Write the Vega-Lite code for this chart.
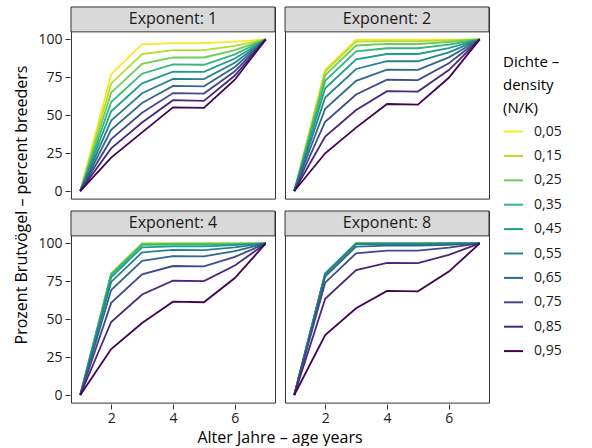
{
  "$schema": "https://vega.github.io/schema/vega-lite/v6.json",
  "padding": {"left": 13, "top": 6, "right": 5, "bottom": 0},
  "data": {"values": [
    {"exponent":1,"density":0.05,"age":1,"percent":0},{"exponent":1,"density":0.05,"age":2,"percent":77.1},{"exponent":1,"density":0.05,"age":3,"percent":96.8},{"exponent":1,"density":0.05,"age":4,"percent":97.6},{"exponent":1,"density":0.05,"age":5,"percent":97.6},{"exponent":1,"density":0.05,"age":6,"percent":98.6},{"exponent":1,"density":0.05,"age":7,"percent":100},
    {"exponent":1,"density":0.15,"age":1,"percent":0},{"exponent":1,"density":0.15,"age":2,"percent":71.0},{"exponent":1,"density":0.15,"age":3,"percent":90.3},{"exponent":1,"density":0.15,"age":4,"percent":92.9},{"exponent":1,"density":0.15,"age":5,"percent":92.9},{"exponent":1,"density":0.15,"age":6,"percent":95.8},{"exponent":1,"density":0.15,"age":7,"percent":100},
    {"exponent":1,"density":0.25,"age":1,"percent":0},{"exponent":1,"density":0.25,"age":2,"percent":64.9},{"exponent":1,"density":0.25,"age":3,"percent":83.9},{"exponent":1,"density":0.25,"age":4,"percent":88.2},{"exponent":1,"density":0.25,"age":5,"percent":88.1},{"exponent":1,"density":0.25,"age":6,"percent":93.0},{"exponent":1,"density":0.25,"age":7,"percent":100},
    {"exponent":1,"density":0.35,"age":1,"percent":0},{"exponent":1,"density":0.35,"age":2,"percent":58.7},{"exponent":1,"density":0.35,"age":3,"percent":77.4},{"exponent":1,"density":0.35,"age":4,"percent":83.5},{"exponent":1,"density":0.35,"age":5,"percent":83.3},{"exponent":1,"density":0.35,"age":6,"percent":90.2},{"exponent":1,"density":0.35,"age":7,"percent":100},
    {"exponent":1,"density":0.45,"age":1,"percent":0},{"exponent":1,"density":0.45,"age":2,"percent":52.6},{"exponent":1,"density":0.45,"age":3,"percent":71.0},{"exponent":1,"density":0.45,"age":4,"percent":78.8},{"exponent":1,"density":0.45,"age":5,"percent":78.6},{"exponent":1,"density":0.45,"age":6,"percent":87.4},{"exponent":1,"density":0.45,"age":7,"percent":100},
    {"exponent":1,"density":0.55,"age":1,"percent":0},{"exponent":1,"density":0.55,"age":2,"percent":46.5},{"exponent":1,"density":0.55,"age":3,"percent":64.5},{"exponent":1,"density":0.55,"age":4,"percent":74.0},{"exponent":1,"density":0.55,"age":5,"percent":73.8},{"exponent":1,"density":0.55,"age":6,"percent":84.6},{"exponent":1,"density":0.55,"age":7,"percent":100},
    {"exponent":1,"density":0.65,"age":1,"percent":0},{"exponent":1,"density":0.65,"age":2,"percent":40.4},{"exponent":1,"density":0.65,"age":3,"percent":58.1},{"exponent":1,"density":0.65,"age":4,"percent":69.3},{"exponent":1,"density":0.65,"age":5,"percent":69.1},{"exponent":1,"density":0.65,"age":6,"percent":81.8},{"exponent":1,"density":0.65,"age":7,"percent":100},
    {"exponent":1,"density":0.75,"age":1,"percent":0},{"exponent":1,"density":0.75,"age":2,"percent":34.2},{"exponent":1,"density":0.75,"age":3,"percent":51.6},{"exponent":1,"density":0.75,"age":4,"percent":64.6},{"exponent":1,"density":0.75,"age":5,"percent":64.3},{"exponent":1,"density":0.75,"age":6,"percent":79.0},{"exponent":1,"density":0.75,"age":7,"percent":100},
    {"exponent":1,"density":0.85,"age":1,"percent":0},{"exponent":1,"density":0.85,"age":2,"percent":28.1},{"exponent":1,"density":0.85,"age":3,"percent":45.2},{"exponent":1,"density":0.85,"age":4,"percent":59.9},{"exponent":1,"density":0.85,"age":5,"percent":59.5},{"exponent":1,"density":0.85,"age":6,"percent":76.2},{"exponent":1,"density":0.85,"age":7,"percent":100},
    {"exponent":1,"density":0.95,"age":1,"percent":0},{"exponent":1,"density":0.95,"age":2,"percent":22.0},{"exponent":1,"density":0.95,"age":3,"percent":38.7},{"exponent":1,"density":0.95,"age":4,"percent":55.2},{"exponent":1,"density":0.95,"age":5,"percent":54.8},{"exponent":1,"density":0.95,"age":6,"percent":73.4},{"exponent":1,"density":0.95,"age":7,"percent":100},

    {"exponent":2,"density":0.05,"age":1,"percent":0},{"exponent":2,"density":0.05,"age":2,"percent":80.0},{"exponent":2,"density":0.05,"age":3,"percent":99.8},{"exponent":2,"density":0.05,"age":4,"percent":99.9},{"exponent":2,"density":0.05,"age":5,"percent":99.9},{"exponent":2,"density":0.05,"age":6,"percent":99.9},{"exponent":2,"density":0.05,"age":7,"percent":100},
    {"exponent":2,"density":0.15,"age":1,"percent":0},{"exponent":2,"density":0.15,"age":2,"percent":78.8},{"exponent":2,"density":0.15,"age":3,"percent":98.5},{"exponent":2,"density":0.15,"age":4,"percent":98.9},{"exponent":2,"density":0.15,"age":5,"percent":98.9},{"exponent":2,"density":0.15,"age":6,"percent":99.4},{"exponent":2,"density":0.15,"age":7,"percent":100},
    {"exponent":2,"density":0.25,"age":1,"percent":0},{"exponent":2,"density":0.25,"age":2,"percent":76.4},{"exponent":2,"density":0.25,"age":3,"percent":96.0},{"exponent":2,"density":0.25,"age":4,"percent":97.1},{"exponent":2,"density":0.25,"age":5,"percent":97.0},{"exponent":2,"density":0.25,"age":6,"percent":98.3},{"exponent":2,"density":0.25,"age":7,"percent":100},
    {"exponent":2,"density":0.35,"age":1,"percent":0},{"exponent":2,"density":0.35,"age":2,"percent":72.7},{"exponent":2,"density":0.35,"age":3,"percent":92.1},{"exponent":2,"density":0.35,"age":4,"percent":94.2},{"exponent":2,"density":0.35,"age":5,"percent":94.2},{"exponent":2,"density":0.35,"age":6,"percent":96.6},{"exponent":2,"density":0.35,"age":7,"percent":100},
    {"exponent":2,"density":0.45,"age":1,"percent":0},{"exponent":2,"density":0.45,"age":2,"percent":67.8},{"exponent":2,"density":0.45,"age":3,"percent":86.9},{"exponent":2,"density":0.45,"age":4,"percent":90.4},{"exponent":2,"density":0.45,"age":5,"percent":90.4},{"exponent":2,"density":0.45,"age":6,"percent":94.3},{"exponent":2,"density":0.45,"age":7,"percent":100},
    {"exponent":2,"density":0.55,"age":1,"percent":0},{"exponent":2,"density":0.55,"age":2,"percent":61.7},{"exponent":2,"density":0.55,"age":3,"percent":80.5},{"exponent":2,"density":0.55,"age":4,"percent":85.7},{"exponent":2,"density":0.55,"age":5,"percent":85.6},{"exponent":2,"density":0.55,"age":6,"percent":91.5},{"exponent":2,"density":0.55,"age":7,"percent":100},
    {"exponent":2,"density":0.65,"age":1,"percent":0},{"exponent":2,"density":0.65,"age":2,"percent":54.3},{"exponent":2,"density":0.65,"age":3,"percent":72.7},{"exponent":2,"density":0.65,"age":4,"percent":80.1},{"exponent":2,"density":0.65,"age":5,"percent":79.9},{"exponent":2,"density":0.65,"age":6,"percent":88.2},{"exponent":2,"density":0.65,"age":7,"percent":100},
    {"exponent":2,"density":0.75,"age":1,"percent":0},{"exponent":2,"density":0.75,"age":2,"percent":45.7},{"exponent":2,"density":0.75,"age":3,"percent":63.7},{"exponent":2,"density":0.75,"age":4,"percent":73.4},{"exponent":2,"density":0.75,"age":5,"percent":73.2},{"exponent":2,"density":0.75,"age":6,"percent":84.3},{"exponent":2,"density":0.75,"age":7,"percent":100},
    {"exponent":2,"density":0.85,"age":1,"percent":0},{"exponent":2,"density":0.85,"age":2,"percent":35.9},{"exponent":2,"density":0.85,"age":3,"percent":53.4},{"exponent":2,"density":0.85,"age":4,"percent":65.9},{"exponent":2,"density":0.85,"age":5,"percent":65.6},{"exponent":2,"density":0.85,"age":6,"percent":79.8},{"exponent":2,"density":0.85,"age":7,"percent":100},
    {"exponent":2,"density":0.95,"age":1,"percent":0},{"exponent":2,"density":0.95,"age":2,"percent":24.9},{"exponent":2,"density":0.95,"age":3,"percent":41.8},{"exponent":2,"density":0.95,"age":4,"percent":57.4},{"exponent":2,"density":0.95,"age":5,"percent":57.0},{"exponent":2,"density":0.95,"age":6,"percent":74.7},{"exponent":2,"density":0.95,"age":7,"percent":100},

    {"exponent":4,"density":0.05,"age":1,"percent":0},{"exponent":4,"density":0.05,"age":2,"percent":80.2},{"exponent":4,"density":0.05,"age":3,"percent":100},{"exponent":4,"density":0.05,"age":4,"percent":100},{"exponent":4,"density":0.05,"age":5,"percent":100},{"exponent":4,"density":0.05,"age":6,"percent":100},{"exponent":4,"density":0.05,"age":7,"percent":100},
    {"exponent":4,"density":0.15,"age":1,"percent":0},{"exponent":4,"density":0.15,"age":2,"percent":80.2},{"exponent":4,"density":0.15,"age":3,"percent":100},{"exponent":4,"density":0.15,"age":4,"percent":100},{"exponent":4,"density":0.15,"age":5,"percent":100},{"exponent":4,"density":0.15,"age":6,"percent":100},{"exponent":4,"density":0.15,"age":7,"percent":100},
    {"exponent":4,"density":0.25,"age":1,"percent":0},{"exponent":4,"density":0.25,"age":2,"percent":80.0},{"exponent":4,"density":0.25,"age":3,"percent":99.7},{"exponent":4,"density":0.25,"age":4,"percent":99.8},{"exponent":4,"density":0.25,"age":5,"percent":99.8},{"exponent":4,"density":0.25,"age":6,"percent":99.9},{"exponent":4,"density":0.25,"age":7,"percent":100},
    {"exponent":4,"density":0.35,"age":1,"percent":0},{"exponent":4,"density":0.35,"age":2,"percent":79.3},{"exponent":4,"density":0.35,"age":3,"percent":99.0},{"exponent":4,"density":0.35,"age":4,"percent":99.3},{"exponent":4,"density":0.35,"age":5,"percent":99.3},{"exponent":4,"density":0.35,"age":6,"percent":99.6},{"exponent":4,"density":0.35,"age":7,"percent":100},
    {"exponent":4,"density":0.45,"age":1,"percent":0},{"exponent":4,"density":0.45,"age":2,"percent":77.7},{"exponent":4,"density":0.45,"age":3,"percent":97.4},{"exponent":4,"density":0.45,"age":4,"percent":98.1},{"exponent":4,"density":0.45,"age":5,"percent":98.0},{"exponent":4,"density":0.45,"age":6,"percent":98.9},{"exponent":4,"density":0.45,"age":7,"percent":100},
    {"exponent":4,"density":0.55,"age":1,"percent":0},{"exponent":4,"density":0.55,"age":2,"percent":74.6},{"exponent":4,"density":0.55,"age":3,"percent":94.1},{"exponent":4,"density":0.55,"age":4,"percent":95.7},{"exponent":4,"density":0.55,"age":5,"percent":95.6},{"exponent":4,"density":0.55,"age":6,"percent":97.4},{"exponent":4,"density":0.55,"age":7,"percent":100},
    {"exponent":4,"density":0.65,"age":1,"percent":0},{"exponent":4,"density":0.65,"age":2,"percent":69.3},{"exponent":4,"density":0.65,"age":3,"percent":88.5},{"exponent":4,"density":0.65,"age":4,"percent":91.6},{"exponent":4,"density":0.65,"age":5,"percent":91.5},{"exponent":4,"density":0.65,"age":6,"percent":95.0},{"exponent":4,"density":0.65,"age":7,"percent":100},
    {"exponent":4,"density":0.75,"age":1,"percent":0},{"exponent":4,"density":0.75,"age":2,"percent":60.8},{"exponent":4,"density":0.75,"age":3,"percent":79.6},{"exponent":4,"density":0.75,"age":4,"percent":85.1},{"exponent":4,"density":0.75,"age":5,"percent":84.9},{"exponent":4,"density":0.75,"age":6,"percent":91.1},{"exponent":4,"density":0.75,"age":7,"percent":100},
    {"exponent":4,"density":0.85,"age":1,"percent":0},{"exponent":4,"density":0.85,"age":2,"percent":48.2},{"exponent":4,"density":0.85,"age":3,"percent":66.3},{"exponent":4,"density":0.85,"age":4,"percent":75.4},{"exponent":4,"density":0.85,"age":5,"percent":75.2},{"exponent":4,"density":0.85,"age":6,"percent":85.4},{"exponent":4,"density":0.85,"age":7,"percent":100},
    {"exponent":4,"density":0.95,"age":1,"percent":0},{"exponent":4,"density":0.95,"age":2,"percent":30.3},{"exponent":4,"density":0.95,"age":3,"percent":47.5},{"exponent":4,"density":0.95,"age":4,"percent":61.6},{"exponent":4,"density":0.95,"age":5,"percent":61.2},{"exponent":4,"density":0.95,"age":6,"percent":77.2},{"exponent":4,"density":0.95,"age":7,"percent":100},

    {"exponent":8,"density":0.05,"age":1,"percent":0},{"exponent":8,"density":0.05,"age":2,"percent":80.2},{"exponent":8,"density":0.05,"age":3,"percent":100},{"exponent":8,"density":0.05,"age":4,"percent":100},{"exponent":8,"density":0.05,"age":5,"percent":100},{"exponent":8,"density":0.05,"age":6,"percent":100},{"exponent":8,"density":0.05,"age":7,"percent":100},
    {"exponent":8,"density":0.15,"age":1,"percent":0},{"exponent":8,"density":0.15,"age":2,"percent":80.2},{"exponent":8,"density":0.15,"age":3,"percent":100},{"exponent":8,"density":0.15,"age":4,"percent":100},{"exponent":8,"density":0.15,"age":5,"percent":100},{"exponent":8,"density":0.15,"age":6,"percent":100},{"exponent":8,"density":0.15,"age":7,"percent":100},
    {"exponent":8,"density":0.25,"age":1,"percent":0},{"exponent":8,"density":0.25,"age":2,"percent":80.2},{"exponent":8,"density":0.25,"age":3,"percent":100},{"exponent":8,"density":0.25,"age":4,"percent":100},{"exponent":8,"density":0.25,"age":5,"percent":100},{"exponent":8,"density":0.25,"age":6,"percent":100},{"exponent":8,"density":0.25,"age":7,"percent":100},
    {"exponent":8,"density":0.35,"age":1,"percent":0},{"exponent":8,"density":0.35,"age":2,"percent":80.2},{"exponent":8,"density":0.35,"age":3,"percent":100},{"exponent":8,"density":0.35,"age":4,"percent":100},{"exponent":8,"density":0.35,"age":5,"percent":100},{"exponent":8,"density":0.35,"age":6,"percent":100},{"exponent":8,"density":0.35,"age":7,"percent":100},
    {"exponent":8,"density":0.45,"age":1,"percent":0},{"exponent":8,"density":0.45,"age":2,"percent":80.1},{"exponent":8,"density":0.45,"age":3,"percent":99.9},{"exponent":8,"density":0.45,"age":4,"percent":99.9},{"exponent":8,"density":0.45,"age":5,"percent":99.9},{"exponent":8,"density":0.45,"age":6,"percent":100},{"exponent":8,"density":0.45,"age":7,"percent":100},
    {"exponent":8,"density":0.55,"age":1,"percent":0},{"exponent":8,"density":0.55,"age":2,"percent":79.7},{"exponent":8,"density":0.55,"age":3,"percent":99.5},{"exponent":8,"density":0.55,"age":4,"percent":99.6},{"exponent":8,"density":0.55,"age":5,"percent":99.6},{"exponent":8,"density":0.55,"age":6,"percent":99.8},{"exponent":8,"density":0.55,"age":7,"percent":100},
    {"exponent":8,"density":0.65,"age":1,"percent":0},{"exponent":8,"density":0.65,"age":2,"percent":78.2},{"exponent":8,"density":0.65,"age":3,"percent":97.9},{"exponent":8,"density":0.65,"age":4,"percent":98.5},{"exponent":8,"density":0.65,"age":5,"percent":98.5},{"exponent":8,"density":0.65,"age":6,"percent":99.1},{"exponent":8,"density":0.65,"age":7,"percent":100},
    {"exponent":8,"density":0.75,"age":1,"percent":0},{"exponent":8,"density":0.75,"age":2,"percent":74.1},{"exponent":8,"density":0.75,"age":3,"percent":93.5},{"exponent":8,"density":0.75,"age":4,"percent":95.3},{"exponent":8,"density":0.75,"age":5,"percent":95.2},{"exponent":8,"density":0.75,"age":6,"percent":97.2},{"exponent":8,"density":0.75,"age":7,"percent":100},
    {"exponent":8,"density":0.85,"age":1,"percent":0},{"exponent":8,"density":0.85,"age":2,"percent":63.5},{"exponent":8,"density":0.85,"age":3,"percent":82.4},{"exponent":8,"density":0.85,"age":4,"percent":87.1},{"exponent":8,"density":0.85,"age":5,"percent":87.0},{"exponent":8,"density":0.85,"age":6,"percent":92.4},{"exponent":8,"density":0.85,"age":7,"percent":100},
    {"exponent":8,"density":0.95,"age":1,"percent":0},{"exponent":8,"density":0.95,"age":2,"percent":39.5},{"exponent":8,"density":0.95,"age":3,"percent":57.2},{"exponent":8,"density":0.95,"age":4,"percent":68.7},{"exponent":8,"density":0.95,"age":5,"percent":68.4},{"exponent":8,"density":0.95,"age":6,"percent":81.4},{"exponent":8,"density":0.95,"age":7,"percent":100}
  ]},
  "transform": [
    {"calculate": "datum.exponent <= 2 ? 'top' : 'bottom'", "as": "panelRow"},
    {"calculate": "(datum.exponent == 1 || datum.exponent == 4) ? 'left' : 'right'", "as": "panelCol"}
  ],
  "facet": {
    "row": {"field": "panelRow", "type": "nominal", "sort": ["top", "bottom"],
      "header": {"labels": false, "title": "Prozent Brutvögel – percent breeders", "titleOrient": "left", "titleFontSize": 16, "titleFontWeight": "normal", "titleColor": "#000000", "titlePadding": -3}},
    "column": {"field": "panelCol", "type": "nominal", "sort": ["left", "right"],
      "header": {"labels": false, "title": "Alter Jahre – age years", "titleOrient": "bottom", "titleFontSize": 16, "titleFontWeight": "normal", "titleColor": "#000000", "titlePadding": -5}}
  },
  "spacing": {"row": 10, "column": 8},
  "spec": {
    "width": 204,
    "height": 191.6,
    "layer": [
      {
        "mark": {"type": "line", "strokeWidth": 1.8},
        "encoding": {
          "x": {"field": "age", "type": "quantitative", "scale": {"domain": [0.7, 7.3], "nice": false, "zero": false},
            "axis": {"values": [2, 4, 6], "title": null, "grid": false, "domain": false, "tickColor": "#333333", "tickSize": 5, "labelFontSize": 14, "labelColor": "#1a1a1a", "labelPadding": 2}},
          "y": {"field": "percent", "type": "quantitative", "scale": {"domain": [-5, 121.4], "nice": false, "zero": false},
            "axis": {"values": [0, 25, 50, 75, 100], "title": null, "grid": false, "domain": false, "tickColor": "#333333", "tickSize": 5, "labelFontSize": 14, "labelColor": "#1a1a1a", "labelPadding": 3}},
          "color": {"field": "density", "type": "ordinal",
            "scale": {"range": ["#FDE725", "#B4DE2C", "#6DCD59", "#35B779", "#1F9E89", "#26828E", "#31688E", "#3E4A89", "#482878", "#440154"]},
            "legend": {"title": ["Dichte –", "density", "(N/K)"], "orient": "none", "legendX": 432, "legendY": 48,
              "labelExpr": "replace(datum.label, '.', ',')", "symbolType": "stroke", "symbolSize": 360, "symbolStrokeWidth": 2,
              "labelFontSize": 14, "labelColor": "#1a1a1a", "titleFontSize": 15, "titleFontWeight": "normal", "titleColor": "#000000", "titleLineHeight": 23, "rowPadding": 6.4, "labelOffset": 10, "titlePadding": 5}}
        }
      },
      {
        "transform": [{"filter": "datum.age == 1 && datum.density == 0.05"}],
        "mark": {"type": "rect", "fill": "#d9d9d9", "stroke": "#333333", "strokeWidth": 1},
        "encoding": {"x": {"datum": 0.7}, "x2": {"datum": 7.3}, "y": {"datum": 105}, "y2": {"datum": 121.4}}
      },
      {
        "transform": [{"filter": "datum.age == 1 && datum.density == 0.05"}, {"calculate": "'Exponent: ' + datum.exponent", "as": "label"}],
        "mark": {"type": "text", "fontSize": 16, "color": "#1a1a1a", "baseline": "middle"},
        "encoding": {"x": {"datum": 4}, "y": {"datum": 113.2}, "text": {"field": "label"}}
      }
    ]
  },
  "config": {
    "font": "Open Sans",
    "view": {"stroke": "#333333", "strokeWidth": 1},
    "background": "#ffffff"
  }
}
